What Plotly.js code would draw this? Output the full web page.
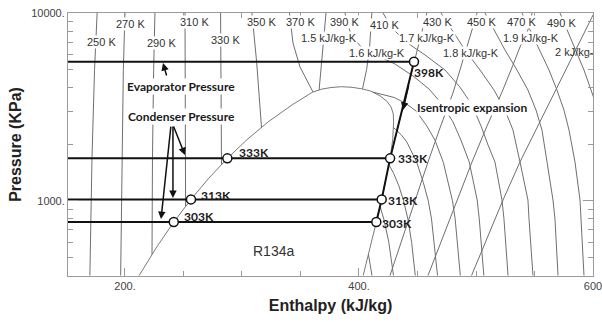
<!DOCTYPE html>
<html><head><meta charset="utf-8">
<script src="https://cdn.plot.ly/plotly-3.0.1.min.js"></script>
<style>html,body{margin:0;padding:0;background:#fff}#chart{width:602px;height:322px}</style>
</head><body><div id="chart"></div>
<script>
// ---- R134a saturation dome (enthalpy kJ/kg, pressure kPa) ----
const domeH = [212.1,227.5,241.7,256.4,271.6,287.5,304.3,322.4,342.9,352,360,368,376,385,394,402,410,418,424,427.5,429.3,429.6,428.8,426.6,423.4,419.4,414.8,409.8,403.6];
const domeP = [400,572,770,1017,1318,1682,2117,2633,3244,3520,3780,3930,4010,4050,4020,3950,3840,3620,3380,3150,2900,2633,2117,1682,1318,1017,770,572,400];

// ---- Isotherms (null separates liquid branch and vapour branch) ----
const isoTemps = ['250 K','270 K','290 K','310 K','330 K','350 K','370 K','390 K','410 K','430 K','450 K','470 K','490 K'];
const t250H = [170.0,171.8,174.0,176.2];
const t250P = [400,1700,5000,10000];
const t270H = [196.3,197.4,198.6,200.0];
const t270P = [400,1700,5000,10000];
const t290H = [225.6,224.5,223.5,223.1,null,408.1,411.1];
const t290P = [10000,5000,1700,517,null,517,400];
const t310H = [251.3,251.6,251.8,null,418.0,421.2,425.5,429.5];
const t310P = [10000,3000,932,null,932,800,600,400];
const t330H = [281.7,282.3,282.5,null,425.5,429.6,434.1,438.1,441.8,445.0,448.1];
const t330P = [10000,4000,1559,null,1559,1400,1200,1000,800,600,400];
const t350H = [308.5,312.5,316.7,null,429.4,436.0,441.0,449.4,455.0,459.2,462.0,467.1];
const t350P = [10000,5500,2458,null,2458,2250,2050,1600,1250,1000,800,400];
const t370H = [340.6,343.6,349.6,358.1,360.7,null,411.6,430.0,440.0,449.0,458.0,465.0,472.1,479.9,482.2,486.6];
const t370P = [10000,6918,5156,4035,3795,null,3795,3550,3300,3000,2500,2100,1600,1000,800,400];
const t390H = [388.0,393.2,402.6,416.2,430.8,446.2,459.8,470.9,480.3,487.2,494.2,501.0,502.8,506.7];
const t390P = [10000,7630,6510,5900,5350,4620,3940,3280,2630,2100,1610,1010,800,400];
const t410H = [420.5,428.2,440.2,456.4,473.5,486.3,496.6,504.3,510.3,516.2,522.2,523.9,527.4];
const t410P = [10000,8320,7010,5980,4970,4030,3240,2500,1980,1610,1010,800,400];
const hotP  = [10000,8120,6350,4970,3890,3040,2380,1610,1010,800,400];
const t430H = [470.1,479.5,490.6,503.4,515.4,524.8,531.6,537.6,544.4,545.3,548.7];
const t450H = [507.7,515.4,524.8,535.0,544.4,551.3,556.4,560.7,565.8,567.5,570.1];
const t470H = [539.3,546.2,553.8,562.4,569.2,575.2,579.5,584.6,588.9,589.7,592.3];
const t490H = [571.8,577.8,584.6,592.3,598.3,604.3,608.0,612.0,615.0,616.0,618.0];

// ---- Isentropes (kJ/kg-K) ----
const isenLabels = ['1.5 kJ/kg-K','1.6 kJ/kg-K','1.7 kJ/kg-K','1.8 kJ/kg-K','1.9 kJ/kg-K','2 kJ/kg-K'];
const s15H = [365.9,368.0,369.6,371.8];
const s15P = [3880,5500,7000,10000];
const s16H = [403.0,406.5,409.0,411.0];
const s16P = [3940,5000,6500,10000];
const s17H = [426.6,432.0,437.5,442.5,447.0,452.0,458.0];
const s17P = [1682,2300,3200,4300,5500,7200,10000];
const s18H = [426.5,442.7,447.9,459.0,469.2,480.3,488.9,497.4,500.9];
const s18P = [400,800,1010,1610,2440,3750,5620,8420,10000];
const s19H = [459.0,483.8,496.6,509.4,522.2,531.6,537.6,544.4,547.9];
const s19P = [400,1010,1610,2500,3790,5280,6590,8120,10000];
const s20H = [496.2,523.1,537.6,552.1,565.8,576.9,586.3,594.9,600.9];
const s20P = [400,1010,1610,2440,3610,4970,6500,8320,10000];

// ---- Cycle states ----
const stateNames = ['398K','333K','313K','303K'];
const stateP     = [5500,1682,1017,770];
const vapourH    = [447.0,426.6,419.4,414.8];   // right-hand points
const liquidH    = [287.5,256.4,241.7];         // left-hand points (333K, 313K, 303K)

const xRange = [151.3, 600];
const yRange = [Math.log10(397.5), 4];

const thin = {color:'#6f6f6f', width:1};
const traces = [];
function curve(H, P, line){ traces.push({type:'scatter', mode:'lines', x:H, y:P, line:line||thin, hoverinfo:'skip', connectgaps:false}); }
curve(domeH, domeP, {color:'#7a7a7a', width:1});
[[t250H,t250P],[t270H,t270P],[t290H,t290P],[t310H,t310P],[t330H,t330P],[t350H,t350P],[t370H,t370P],[t390H,t390P],[t410H,t410P],[t430H,hotP],[t450H,hotP],[t470H,hotP],[t490H,hotP]].forEach(c=>curve(c[0],c[1]));
[[s15H,s15P],[s16H,s16P],[s17H,s17P],[s18H,s18P],[s19H,s19P],[s20H,s20P]].forEach(c=>curve(c[0],c[1]));

// horizontal pressure lines from the left edge to the state points
const proc = {color:'#111', width:2};
for (let i=0;i<4;i++) curve([xRange[0], vapourH[i]], [stateP[i], stateP[i]], proc);
// compression / expansion path
curve(vapourH, stateP, proc);
// state markers
traces.push({type:'scatter', mode:'markers', x: vapourH.concat(liquidH), y: stateP.concat(stateP.slice(1)),
  marker:{symbol:'circle', size:9, color:'white', line:{color:'#111', width:1.5}}, hoverinfo:'skip'});
// label clipped by the right edge of the plot
traces.push({type:'scatter', mode:'text', x:[567.5], y:[6123], text:[isenLabels[5]], textposition:'middle right',
  textfont:{family:'Liberation Sans, Arial, sans-serif', size:11, color:'#333'}, hoverinfo:'skip', cliponaxis:true});

const lf = {family:'Liberation Sans, Arial, sans-serif', size:11, color:'#333'};
const bf = {family:'Lato, Calibri, sans-serif', size:12, color:'#1a1a1a'};
const L = Math.log10;
const ann = [];
function lab(text, h, p, font, extra){ ann.push(Object.assign({text:text, x:h, y:L(p), xref:'x', yref:'y', showarrow:false, font:font, bgcolor:'white', borderpad:0}, extra||{})); }
// isotherm labels
const tPos = [[179.5,7005],[204.3,8738],[230.8,6918],[259.8,8956],[285.5,7181],[317.1,8956],[349.6,8956],[388.0,8956],[422.2,8630],[467.5,8956],[505.1,8956],[539.3,8956],[573.5,8846]];
isoTemps.forEach((t,i)=>lab(t, tPos[i][0], tPos[i][1], lf));
const sPos = [[374.4,7360],[415.4,6123],[458.1,7360],[495.7,6123],[547.0,7360]];
sPos.forEach((p,i)=>lab(isenLabels[i], p[0], p[1], lf));
lab('<b>Evaporator Pressure</b>', 247.9, 4085, bf);
lab('<b>Condenser Pressure</b>', 247.9, 2826, bf);
lab('<b>Isentropic expansion</b>', 496.6, 3157, bf);
lab('R134a', 326.9, 540, {family:'Liberation Sans, Arial, sans-serif', size:14, color:'#333'}, {bgcolor:'rgba(0,0,0,0)'});
const sf = {family:'Lato, Calibri, sans-serif', size:12, color:'#1a1a1a'};
const nb = {bgcolor:'rgba(0,0,0,0)', xanchor:'left'};
lab('<b>'+stateNames[0]+'</b>', 446.5, 4847, sf, nb);
lab('<b>'+stateNames[1]+'</b>', 296.6, 1806, sf, nb);
lab('<b>'+stateNames[1]+'</b>', 432.3, 1689, sf, nb);
lab('<b>'+stateNames[2]+'</b>', 264.1, 1072, sf, nb);
lab('<b>'+stateNames[2]+'</b>', 424.2, 1007, sf, nb);
lab('<b>'+stateNames[3]+'</b>', 249.6, 829, sf, nb);
lab('<b>'+stateNames[3]+'</b>', 419.1, 761, sf, nb);
// arrows
function arrow(h, p, ax, ay){ ann.push({x:h, y:L(p), xref:'x', yref:'y', ax:ax, ay:ay, text:'', showarrow:true, arrowhead:2, arrowsize:1, arrowwidth:1.5, arrowcolor:'#111', standoff:0, startstandoff:0}); }
arrow(232.5, 5415, 4, 14);
arrow(251.3, 1752, -12, -30);
arrow(241.0, 1034, 0, -73);
arrow(230.8, 799, 10, -94);
arrow(437.6, 3043, 6, -26);

const axFont = {family:'Liberation Sans, Arial, sans-serif', size:11, color:'#444'};
const layout = {
  width:602, height:322, margin:{l:68, r:9, t:13, b:46, pad:0},
  paper_bgcolor:'white', plot_bgcolor:'white', showlegend:false,
  font:{family:'Liberation Sans, Arial, sans-serif'},
  xaxis:{range:xRange, showgrid:false, zeroline:false, showline:true, linecolor:'#9a9a9a', linewidth:1, mirror:'ticks',
    ticks:'inside', ticklen:8, tickcolor:'#9a9a9a', tickmode:'array', tickvals:[200,400,600], ticktext:['200.','400.','600'],
    tickfont:axFont, ticklabeloverflow:'allow',
    minor:{tickmode:'array', tickvals:[250,300,350,450,500,550], ticks:'inside', ticklen:5, tickcolor:'#9a9a9a'},
    title:{text:'<b>Enthalpy (kJ/kg)</b>', font:{family:'Liberation Sans, Arial, sans-serif', size:16, color:'#222'}, standoff:8}},
  yaxis:{type:'log', range:yRange, showgrid:false, zeroline:false, showline:true, linecolor:'#9a9a9a', linewidth:1, mirror:'ticks',
    ticks:'inside', ticklen:10, tickcolor:'#9a9a9a', tickmode:'array', tickvals:[1000,10000], ticktext:['1000.','10000.'],
    tickfont:axFont,
    minor:{tickmode:'array', tickvals:[500,600,700,800,900,2000,3000,4000,5000,6000,7000,8000,9000], ticks:'inside', ticklen:5, tickcolor:'#9a9a9a'},
    title:{text:'<b>Pressure (KPa)</b>', font:{family:'Liberation Sans, Arial, sans-serif', size:16, color:'#222'}, standoff:5}},
  annotations: ann
};
Plotly.newPlot('chart', traces, layout, {staticPlot:true, displayModeBar:false});
</script></body></html>
